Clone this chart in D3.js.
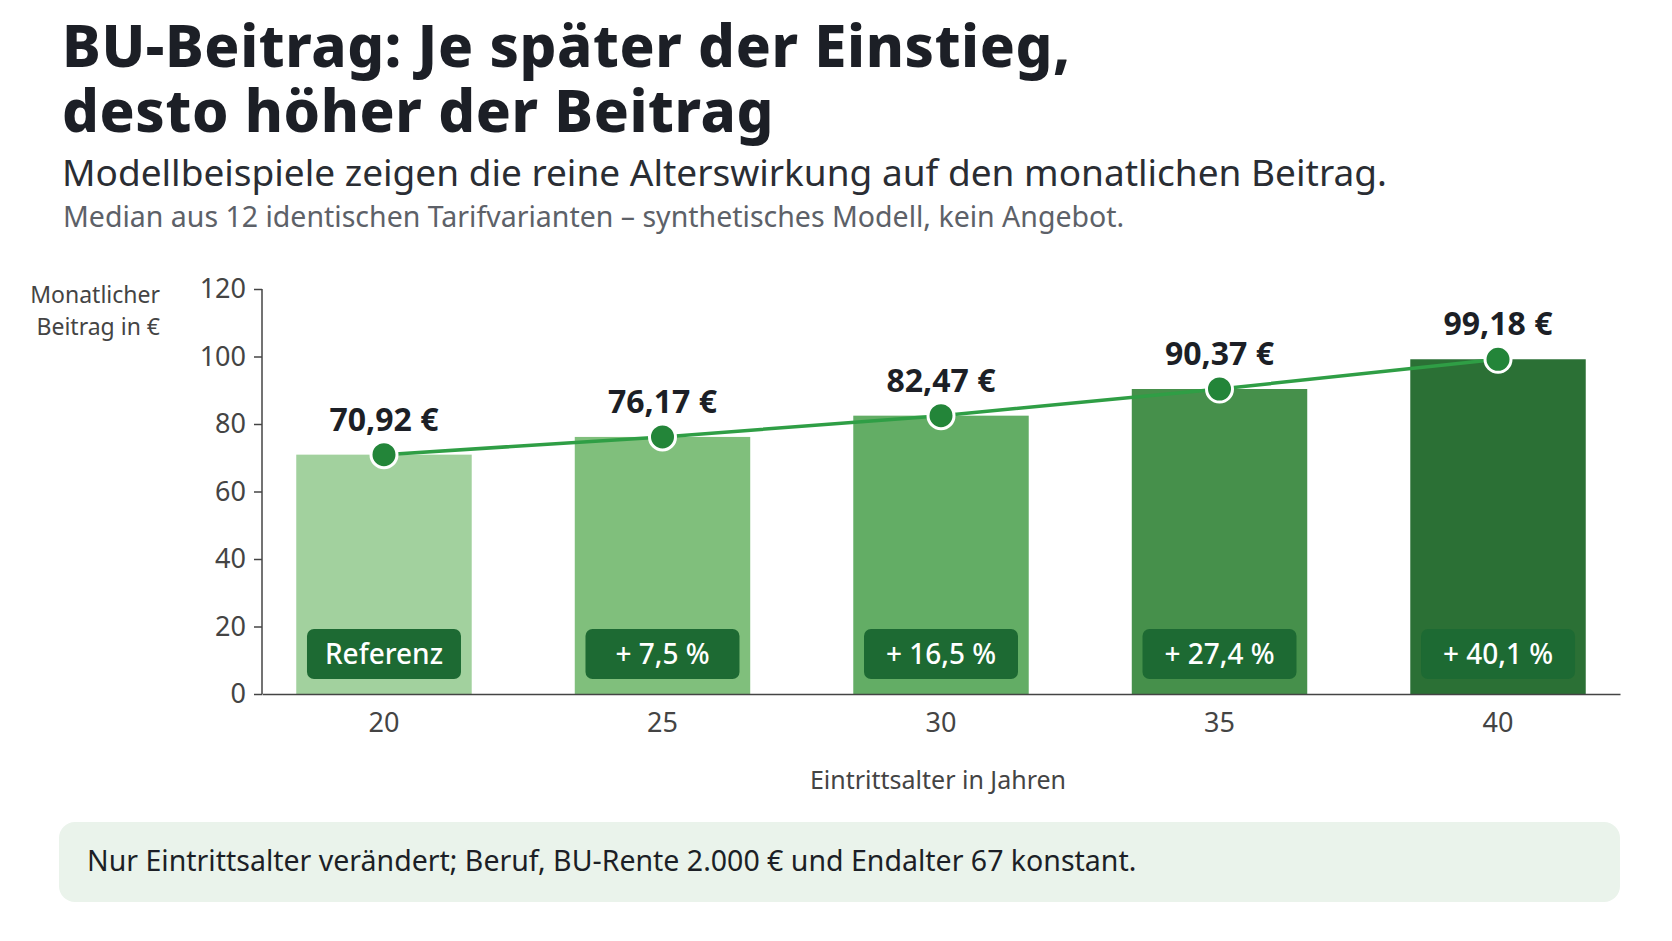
<!DOCTYPE html><html><head><meta charset="utf-8"><script src="https://cdn.jsdelivr.net/npm/d3@7"></script>
<style>body{margin:0;background:#fff}text{font-family:"Noto Sans",sans-serif}</style></head><body><svg id="c" width="1672" height="941"></svg>
<script>
const ages=["20","25","30","35","40"];
const beitrag=[70.92,76.17,82.47,90.37,99.18];
const labels=["70,92 €","76,17 €","82,47 €","90,37 €","99,18 €"];
const badges=["Referenz","+ 7,5 %","+ 16,5 %","+ 27,4 %","+ 40,1 %"];
const barColors=["#a2d19e","#80bf7c","#63ad65","#46904b","#2b7035"];
const yTicks=[0,20,40,60,80,100,120];
const svg=d3.select("#c");
svg.append("text").attr("x",62).attr("y",67).attr("font-size",58).attr("font-weight",800).attr("letter-spacing",0.6).attr("fill","#1c1f26").text("BU-Beitrag: Je später der Einstieg,");
svg.append("text").attr("x",62).attr("y",132).attr("font-size",58).attr("font-weight",800).attr("letter-spacing",0.6).attr("fill","#1c1f26").text("desto höher der Beitrag");
svg.append("text").attr("x",62).attr("y",186).attr("font-size",37).attr("fill","#2a2d33").text("Modellbeispiele zeigen die reine Alterswirkung auf den monatlichen Beitrag.");
svg.append("text").attr("x",63).attr("y",227).attr("font-size",28.5).attr("fill","#5d6168").text("Median aus 12 identischen Tarifvarianten – synthetisches Modell, kein Angebot.");
const x=d3.scaleBand().domain(ages).range([262,1620]).paddingInner(0.37).paddingOuter(0.123);
const y=d3.scaleLinear().domain([0,120]).range([694,289]);
const ya=svg.append("g").attr("transform","translate(262,0)").call(d3.axisLeft(y).tickValues(yTicks).tickSize(8).tickPadding(8));
ya.selectAll("text").attr("font-size",27).attr("fill","#444");
ya.selectAll("line,path").attr("stroke","#444").attr("stroke-width",1.5);
ya.select(".domain").attr("d","M0,289V694");
svg.selectAll(".bar").data(ages).join("rect").attr("x",d=>x(d)).attr("width",x.bandwidth()).attr("y",(d,i)=>y(beitrag[i])).attr("height",(d,i)=>y(0)-y(beitrag[i])).attr("fill",(d,i)=>barColors[i]);
const xa=svg.append("g").attr("transform","translate(0,694)").call(d3.axisBottom(x).tickSize(0).tickPadding(38));
xa.selectAll("text").attr("font-size",27).attr("fill","#444").attr("dy","0");
xa.select(".domain").attr("stroke","#444").attr("stroke-width",1.5);
const cx=d=>x(d)+x.bandwidth()/2;
svg.append("text").attr("x",938).attr("y",789).attr("text-anchor","middle").attr("font-size",25).attr("fill","#444").text("Eintrittsalter in Jahren");
svg.append("text").attr("x",160).attr("y",303).attr("text-anchor","end").attr("font-size",23).attr("fill","#444").text("Monatlicher");
svg.append("text").attr("x",160).attr("y",335).attr("text-anchor","end").attr("font-size",23).attr("fill","#444").text("Beitrag in €");
svg.append("path").datum(ages).attr("d",d3.line().x(cx).y((d,i)=>y(beitrag[i]))).attr("fill","none").attr("stroke","#2f9e45").attr("stroke-width",3.5);
svg.selectAll(".pt").data(ages).join("circle").attr("cx",cx).attr("cy",(d,i)=>y(beitrag[i])).attr("r",13).attr("fill","#238539").attr("stroke","#fff").attr("stroke-width",3);
svg.selectAll(".vl").data(ages).join("text").attr("x",cx).attr("y",(d,i)=>y(beitrag[i])-24).attr("text-anchor","middle").attr("font-size",32).attr("font-weight",700).attr("fill","#1c1f26").text((d,i)=>labels[i]);
svg.selectAll(".bg").data(ages).join("rect").attr("x",d=>cx(d)-77).attr("y",629).attr("width",154).attr("height",50).attr("rx",7).attr("fill","#1d6a33");
svg.selectAll(".bt").data(ages).join("text").attr("x",cx).attr("y",664).attr("text-anchor","middle").attr("font-size",28).attr("font-weight",500).attr("fill","#fff").text((d,i)=>badges[i]);
svg.append("rect").attr("x",59).attr("y",822).attr("width",1561).attr("height",80).attr("rx",16).attr("fill","#eaf3eb");
svg.append("text").attr("x",87).attr("y",871).attr("font-size",28.5).attr("fill","#1c1f26").text("Nur Eintrittsalter verändert; Beruf, BU-Rente 2.000 € und Endalter 67 konstant.");
</script></body></html>
